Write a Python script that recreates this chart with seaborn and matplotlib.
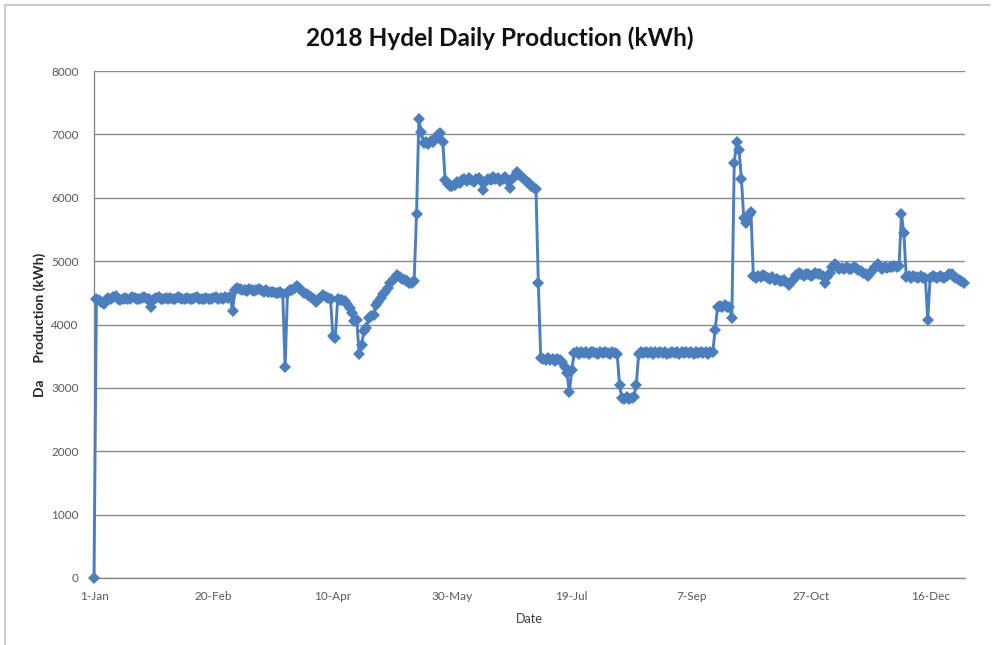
import matplotlib
matplotlib.use("Agg")
import matplotlib.pyplot as plt
import matplotlib.lines as mlines
import seaborn as sns
import pandas as pd
import numpy as np

# ---- data (daily production, kWh), one list per month of 2018 ----
jan = [0, 4400, 4380, 4350, 4330, 4380, 4420, 4400, 4430, 4450, 4410, 4390, 4400, 4420, 4410, 4400,
       4430, 4420, 4410, 4400, 4420, 4430, 4410, 4400, 4270, 4410, 4420, 4430, 4410, 4400, 4420]
feb = [4410, 4420, 4400, 4410, 4430, 4420, 4400, 4410, 4420, 4410, 4400, 4420, 4430, 4410, 4400, 4410,
       4420, 4410, 4400, 4420, 4430, 4410, 4420, 4410, 4430, 4420, 4440, 4220]
mar = [4540, 4570, 4560, 4540, 4550, 4530, 4560, 4540, 4530, 4550, 4560, 4540, 4520, 4540, 4520, 4510,
       4520, 4500, 4490, 4510, 4480, 3330, 4520, 4550, 4540, 4570, 4600, 4580, 4530, 4500, 4480]
apr = [4450, 4430, 4400, 4360, 4400, 4440, 4460, 4430, 4420, 4400, 3820, 3780, 4400, 4380, 4390, 4370,
       4330, 4260, 4180, 4060, 4070, 3530, 3680, 3900, 3950, 4100, 4130, 4150, 4300, 4350]
may = [4420, 4480, 4520, 4580, 4650, 4700, 4740, 4780, 4750, 4720, 4700, 4690, 4660, 4650, 4680, 5740,
       7250, 7030, 6870, 6880, 6850, 6900, 6880, 6940, 6990, 7020, 6880, 6280, 6220, 6190, 6180]
jun = [6200, 6250, 6230, 6280, 6300, 6260, 6310, 6280, 6250, 6290, 6310, 6270, 6130, 6260, 6300, 6280,
       6320, 6290, 6310, 6270, 6300, 6330, 6280, 6160, 6290, 6330, 6400, 6360, 6320, 6290]
jul = [6260, 6230, 6180, 6160, 6140, 4650, 3470, 3450, 3440, 3470, 3440, 3450, 3430, 3460, 3440, 3410,
       3330, 3230, 2930, 3280, 3550, 3560, 3540, 3570, 3550, 3560, 3540, 3560, 3570, 3550, 3540]
aug = [3560, 3550, 3570, 3550, 3540, 3560, 3550, 3540, 3040, 2840, 2830, 2850, 2830, 2840, 2860, 3050,
       3540, 3560, 3550, 3570, 3550, 3560, 3540, 3560, 3550, 3570, 3550, 3560, 3540, 3550, 3560]
sep = [3550, 3560, 3540, 3560, 3550, 3570, 3550, 3560, 3540, 3560, 3550, 3570, 3550, 3560, 3540, 3560,
       3560, 3910, 4270, 4290, 4280, 4300, 4280, 4270, 4100, 6550, 6880, 6760, 6300, 5680]
oct_ = [5600, 5720, 5780, 4760, 4740, 4770, 4750, 4780, 4760, 4740, 4720, 4750, 4700, 4720, 4690, 4680,
        4700, 4660, 4620, 4680, 4720, 4780, 4810, 4790, 4770, 4800, 4790, 4760, 4780, 4810, 4790]
nov = [4800, 4760, 4660, 4750, 4820, 4900, 4950, 4900, 4880, 4890, 4870, 4900, 4880, 4870, 4900, 4890,
       4860, 4850, 4820, 4790, 4770, 4820, 4860, 4900, 4950, 4900, 4880, 4900, 4890, 4910]
dec = [4900, 4920, 4900, 4930, 5740, 5450, 4750, 4760, 4740, 4760, 4750, 4740, 4760, 4730, 4740, 4070,
       4740, 4760, 4750, 4730, 4760, 4750, 4740, 4770, 4800, 4790, 4750, 4730, 4710, 4680, 4660]

xtick_labels = ["1-Jan", "20-Feb", "10-Apr", "30-May", "19-Jul", "7-Sep", "27-Oct", "16-Dec"]
ytick_values = [0, 1000, 2000, 3000, 4000, 5000, 6000, 7000, 8000]
title = "2018 Hydel Daily Production (kWh)"

values = jan + feb + mar + apr + may + jun + jul + aug + sep + oct_ + nov + dec
dates = pd.date_range("2018-01-01", periods=len(values), freq="D")
df = pd.DataFrame({"Date": dates, "kWh": values})

sns.set_theme(style="white")
plt.rcParams["font.family"] = ["Lato", "DejaVu Sans"]

fig = plt.figure(figsize=(9.95, 6.45), dpi=100)
ax = fig.add_axes([94 / 995, 1 - 578 / 645, (965 - 94) / 995, (578 - 71) / 645])

line_color = "#4A7EBF"
sns.lineplot(data=df, x="Date", y="kWh", ax=ax, color=line_color, linewidth=2.1,
             marker="D", markersize=6.2, markeredgewidth=0, markeredgecolor=line_color,
             clip_on=False, zorder=3)

ax.set_xlim(pd.Timestamp("2018-01-01"), pd.Timestamp("2018-12-31") + pd.Timedelta(days=0.6))
ax.set_ylim(0, 8000)
ax.set_yticks(ytick_values)
ax.set_yticklabels([str(v) for v in ytick_values])
xt = pd.to_datetime([pd.Timestamp("2018-01-01") + pd.Timedelta(days=50 * i) for i in range(len(xtick_labels))])
ax.set_xticks(xt)
ax.set_xticklabels(xtick_labels)

ax.grid(axis="y", color="#8a8a8a", linewidth=1.0)
ax.grid(axis="x", visible=False)
ax.set_axisbelow(True)
for s in ["top", "right"]:
    ax.spines[s].set_visible(False)
for s in ["left", "bottom"]:
    ax.spines[s].set_color("#8a8a8a")
    ax.spines[s].set_linewidth(1.0)

ax.tick_params(axis="both", which="both", direction="out", colors="#8a8a8a",
               labelcolor="#595959", labelsize=8.5)
ax.tick_params(axis="y", length=5, width=1, pad=6)
ax.tick_params(axis="x", length=4, width=1, pad=5)

ax.set_xlabel("Date", fontsize=9, color="#404040", labelpad=8)
ax.set_ylabel("Da     Production (kWh)", fontsize=10, fontweight="bold", color="#262626", labelpad=4)

fig.text(500 / 995, 1 - 38 / 645, title, ha="center", va="center", fontsize=17.6,
         fontweight="bold", color="#111111")

# outer chart frame
fig.add_artist(mlines.Line2D([5 / 995, 990 / 995], [1 - 5 / 645, 1 - 5 / 645],
                             transform=fig.transFigure, color="#c0c0c0", linewidth=1.2))
fig.add_artist(mlines.Line2D([5 / 995, 5 / 995], [1 - 5 / 645, 0],
                             transform=fig.transFigure, color="#c0c0c0", linewidth=1.2))

fig.savefig("out.png", dpi=100)
